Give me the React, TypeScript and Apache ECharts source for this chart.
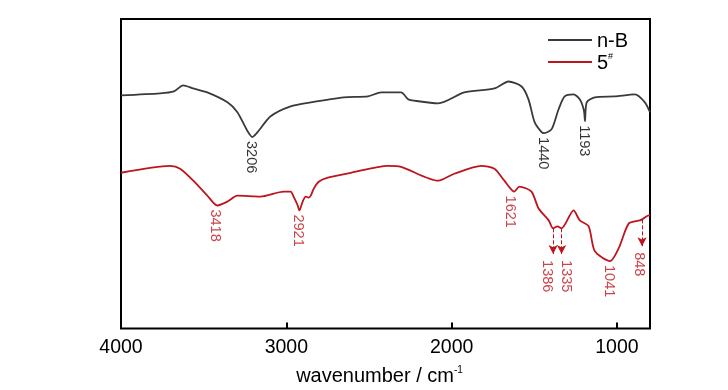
import React, { useEffect, useRef } from 'react';
import * as echarts from 'echarts';

// n-B spectrum (wavenumber cm-1 -> relative transmittance, arbitrary units)
const nbWavenumbers = [4000, 3763, 3680, 3624, 3563, 3478, 3356, 3296, 3235, 3206, 3174, 3095, 2974, 2852, 2652, 2506, 2427, 2306, 2263, 2240, 2081, 1923, 1741, 1656, 1577, 1535, 1498, 1456, 1440, 1395, 1353, 1316, 1262, 1225, 1200, 1193, 1183, 1134, 1013, 891, 831, 800];
const nbValues = [235, 237, 239, 245, 242, 238, 228, 218, 199, 193, 198, 214, 224, 228, 233, 234, 238, 238, 231, 230, 227, 238, 242, 249, 244, 231, 208, 198, 197, 201, 221, 234, 236, 231, 220, 209, 228, 233, 234, 236, 228, 218];

// 5# spectrum
const s5Wavenumbers = [4000, 3702, 3642, 3563, 3478, 3418, 3356, 3296, 3156, 3016, 2974, 2956, 2931, 2921, 2901, 2883, 2865, 2852, 2834, 2804, 2749, 2610, 2385, 2306, 2081, 1984, 1820, 1741, 1681, 1621, 1590, 1517, 1474, 1413, 1386, 1360, 1335, 1262, 1225, 1171, 1134, 1041, 989, 928, 861, 848, 806, 800];
const s5Values = [157, 164, 161, 149, 134, 124, 128, 134, 133, 138, 138, 133, 124, 119, 128, 133, 132, 134, 141, 148, 152, 157, 164, 163, 149, 156, 164, 161, 149, 138, 143, 138, 121, 109, 101, 103, 101, 119, 109, 103, 78, 68, 81, 106, 109, 110, 114, 114];

// peak annotations: [wavenumber, value, label, horizontal nudge (px, + = right)]
const nbPeaks: [number, number, string, number][] = [[3206, 193, '3206', 0], [1440, 197, '1440', 0], [1193, 209, '1193', 0]];
const s5Peaks: [number, number, string, number][] = [[3418, 124, '3418', -1], [2921, 119, '2921', 0], [1621, 138, '1621', -3], [1386, 73, '1386', -5], [1335, 73, '1335', 5], [1041, 68, '1041', 0], [848, 81, '848', -2]];
// dashed arrows: [wavenumber, fromValue, toValue]
const s5Arrows: [number, number, number][] = [[1386, 101, 75], [1335, 101, 75], [848, 110, 83]];

const xTickLabels = [1000, 2000, 3000, 4000];
const xTicks = [1000, 2000, 3000];

const FONT = "'Liberation Sans', Arial, sans-serif";
const BLACK = '#3a3a3a';
const RED = '#be141d';

export default function App() {
  const ref = useRef<HTMLDivElement>(null);
  useEffect(() => {
    if (!ref.current) return;
    const chart = echarts.init(ref.current, null, { renderer: 'svg' });
    const zip = (a: number[], b: number[]) => a.map((x, i) => [x, b[i]]);
    const peakLabel = (color: string) => ({
      show: true,
      position: 'bottom',
      distance: 4,
      rotate: -90,
      align: 'left',
      verticalAlign: 'middle',
      color,
      fontFamily: FONT,
      fontSize: 14.5,
      formatter: (p: any) => p.value[2],
    });
    // label is rotated clockwise: its local y axis points left on screen
    const peakData = (peaks: [number, number, string, number][]) =>
      peaks.map(([w, v, t, dx]) => ({ value: [w, v, t], label: { offset: [0, -dx] } }));
    chart.setOption({
      animation: false,
      grid: { left: 121, right: 78, top: 19, bottom: 59, show: true, borderColor: '#000', borderWidth: 2, backgroundColor: 'transparent' },
      legend: {
        data: ['n-B', '5#'],
        orient: 'vertical',
        left: 543,
        top: 24,
        itemWidth: 44,
        itemHeight: 2,
        itemGap: 0,
        icon: 'rect',
        textStyle: {
          fontFamily: FONT,
          fontSize: 20,
          lineHeight: 22,
          color: '#000',
          rich: {
            a: { fontFamily: FONT, fontSize: 20, lineHeight: 22, color: '#000' },
            s: { fontFamily: FONT, fontSize: 9, color: '#000', verticalAlign: 'top', padding: [0, 0, 10, 0] },
          },
        },
        formatter: (name: string) => (name === '5#' ? '{a|5}{s|#}' : '{a|n-B}'),
      },
      xAxis: {
        type: 'value',
        min: 800,
        max: 4000,
        inverse: true,
        axisLine: { show: false },
        splitLine: { show: false },
        axisTick: { show: true, inside: true, length: 6, lineStyle: { color: '#000', width: 2 }, customValues: xTicks },
        axisLabel: { color: '#000', fontFamily: FONT, fontSize: 19.5, margin: 7, customValues: xTickLabels, formatter: (v: number) => String(v) },
        name: '{a|wavenumber / cm}{b|-1}',
        nameLocation: 'middle',
        nameGap: 36,
        nameTextStyle: {
          padding: [0, 12, 0, 0],
          rich: {
            a: { fontFamily: FONT, fontSize: 20, color: '#000' },
            b: { fontFamily: FONT, fontSize: 10, color: '#000', verticalAlign: 'top', padding: [0, 0, 11, 0] },
          },
        },
      },
      yAxis: {
        type: 'value',
        min: 0,
        max: 312,
        show: true,
        axisLine: { show: false },
        axisTick: { show: false },
        axisLabel: { show: false },
        splitLine: { show: false },
      },
      series: [
        {
          name: 'n-B',
          type: 'line',
          data: zip(nbWavenumbers, nbValues),
          symbol: 'none',
          smooth: 0.25,
          lineStyle: { color: BLACK, width: 1.8 },
          itemStyle: { color: BLACK },
          silent: true,
        },
        {
          name: '5#',
          type: 'line',
          data: zip(s5Wavenumbers, s5Values),
          symbol: 'none',
          smooth: 0.25,
          lineStyle: { color: RED, width: 1.8 },
          itemStyle: { color: RED },
          silent: true,
          markLine: {
            silent: true,
            symbol: ['none', 'arrow'],
            symbolSize: [7, 9],
            label: { show: false },
            lineStyle: { color: RED, type: 'dashed', width: 1 },
            data: s5Arrows.map(([w, a, b]) => [{ coord: [w, a] }, { coord: [w, b] }]),
          },
        },
        {
          type: 'scatter',
          data: peakData(nbPeaks),
          symbolSize: 0,
          silent: true,
          label: peakLabel('#000'),
        },
        {
          type: 'scatter',
          data: peakData(s5Peaks),
          symbolSize: 0,
          silent: true,
          label: peakLabel(RED),
        },
      ],
    });
    return () => chart.dispose();
  }, []);
  return <div ref={ref} style={{ position: 'fixed', left: 0, top: 0, width: 728, height: 390 }} />;
}
